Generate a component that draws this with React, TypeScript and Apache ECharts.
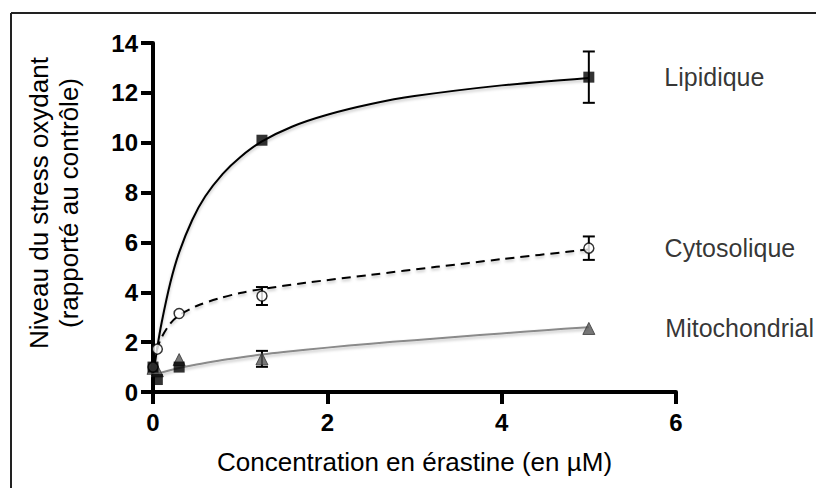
import React, { useEffect, useRef } from "react";
import * as echarts from "echarts";

// Measured points (x = concentration en érastine, µM)
const pointX = [0, 0.05, 0.3, 1.25, 5];
const lipidY = [1.0, 0.5, 1.0, 10.1, 12.63];
const lipidErr = [0, 0, 0, 0, 1.03];
const cytoY = [1.0, 1.72, 3.15, 3.85, 5.77];
const cytoErr = [0, 0, 0, 0.36, 0.47];
const mitoY = [0.95, 0.85, 1.3, 1.33, 2.55];
const mitoErr = [0, 0, 0, 0.32, 0];

// Fitted curves
const lipidCurveX = [0, 0.05, 0.1, 0.2, 0.3, 0.45, 0.6, 0.8, 1.0, 1.25, 1.6, 2, 2.5, 3, 4, 5];
const lipidCurveY = [0.6, 1.8, 2.8, 4.4, 5.6, 6.9, 7.85, 8.75, 9.42, 10.05, 10.65, 11.12, 11.55, 11.87, 12.3, 12.6];
const cytoCurveX = [0, 0.05, 0.1, 0.2, 0.3, 0.5, 0.75, 1.0, 1.25, 1.75, 2.5, 3.25, 4, 5];
const cytoCurveY = [1.1, 1.75, 2.2, 2.75, 3.08, 3.45, 3.75, 3.97, 4.13, 4.38, 4.7, 5.02, 5.33, 5.72];
const mitoCurveX = [0, 0.1, 0.25, 0.5, 0.75, 1, 1.25, 1.5, 2, 2.5, 3, 3.5, 4, 4.5, 5];
const mitoCurveY = [0.65, 0.78, 0.92, 1.1, 1.25, 1.38, 1.5, 1.6, 1.78, 1.94, 2.08, 2.22, 2.35, 2.48, 2.6];

const seriesNames = ["Lipidique", "Cytosolique", "Mitochondrial"];
const xTicks = { min: 0, max: 6, interval: 2 };
const yTicks = { min: 0, max: 14, interval: 2 };
const xTitle = "Concentration en érastine (en µM)";
const yTitle1 = "Niveau du stress oxydant";
const yTitle2 = "(rapporté au contrôle)";

const FONT = '"Liberation Sans", Arial, sans-serif';

function zip(xs: number[], ys: number[]) {
  return xs.map((x, i) => [x, ys[i]]);
}

function pointsWithLabel(ys: number[], name: string) {
  return pointX.map((x, i) => {
    if (i === pointX.length - 1) {
      return {
        value: [x, ys[i]],
        label: {
          show: true,
          formatter: name,
          position: "right",
          distance: 70,
          fontSize: 25,
          fontFamily: FONT,
          color: "#000",
        },
      };
    }
    return { value: [x, ys[i]] };
  });
}

function errData(ys: number[], errs: number[]) {
  const out: number[][] = [];
  pointX.forEach((x, i) => {
    if (errs[i] > 0) out.push([x, ys[i] - errs[i], ys[i] + errs[i]]);
  });
  return out;
}

const errorRender = (params: any, api: any) => {
  const x = api.value(0);
  const lo = api.coord([x, api.value(1)]);
  const hi = api.coord([x, api.value(2)]);
  const w = 6;
  const style = { stroke: "#000", lineWidth: 2 };
  return {
    type: "group",
    children: [
      { type: "line", shape: { x1: lo[0], y1: lo[1], x2: hi[0], y2: hi[1] }, style },
      { type: "line", shape: { x1: lo[0] - w, y1: lo[1], x2: lo[0] + w, y2: lo[1] }, style },
      { type: "line", shape: { x1: hi[0] - w, y1: hi[1], x2: hi[0] + w, y2: hi[1] }, style },
    ],
  };
};

const curveShadow = {
  shadowColor: "rgba(0,0,0,0.25)",
  shadowBlur: 3,
  shadowOffsetY: 2,
};

export default function App() {
  const ref = useRef<HTMLDivElement>(null);

  useEffect(() => {
    if (!ref.current) return;
    const chart = echarts.init(ref.current, null, { renderer: "svg" });
    const axisLineStyle = { color: "#000", width: 4 };
    chart.setOption({
      animation: false,
      backgroundColor: "#fff",
      grid: { left: 153, right: 140, top: 43, bottom: 96 },
      xAxis: {
        type: "value",
        min: xTicks.min,
        max: xTicks.max,
        interval: xTicks.interval,
        splitLine: { show: false },
        axisLine: { show: true, onZero: false, lineStyle: axisLineStyle },
        axisTick: { show: true, length: 12, lineStyle: axisLineStyle },
        axisLabel: {
          margin: 18,
          fontSize: 24,
          fontWeight: "bold",
          fontFamily: FONT,
          color: "#000",
        },
        name: xTitle,
        nameLocation: "middle",
        nameGap: 57,
        nameTextStyle: { fontSize: 26, fontFamily: FONT, color: "#000" },
      },
      yAxis: {
        type: "value",
        min: yTicks.min,
        max: yTicks.max,
        interval: yTicks.interval,
        splitLine: { show: false },
        axisLine: { show: true, onZero: false, lineStyle: axisLineStyle },
        axisTick: { show: true, length: 12, lineStyle: axisLineStyle },
        axisLabel: {
          margin: 15,
          fontSize: 24,
          fontWeight: "bold",
          fontFamily: FONT,
          color: "#000",
        },
      },
      graphic: [
        {
          type: "line",
          shape: { x1: 11, y1: 13, x2: 816, y2: 13 },
          style: { stroke: "#222", lineWidth: 2 },
        },
        {
          type: "line",
          shape: { x1: 11, y1: 13, x2: 11, y2: 488 },
          style: { stroke: "#222", lineWidth: 2 },
        },
        {
          type: "text",
          x: 39,
          y: 203,
          rotation: Math.PI / 2,
          style: {
            text: yTitle1,
            fontSize: 26,
            fontFamily: FONT,
            fill: "#000",
            align: "center",
            verticalAlign: "middle",
          },
        },
        {
          type: "text",
          x: 69,
          y: 203,
          rotation: Math.PI / 2,
          style: {
            text: yTitle2,
            fontSize: 26,
            fontFamily: FONT,
            fill: "#000",
            align: "center",
            verticalAlign: "middle",
          },
        },
      ],
      series: [
        {
          name: "Lipidique fit",
          type: "line",
          data: zip(lipidCurveX, lipidCurveY),
          smooth: 0.3,
          showSymbol: false,
          symbol: "none",
          lineStyle: { color: "#000", width: 2, ...curveShadow },
          z: 2,
        },
        {
          name: "Cytosolique fit",
          type: "line",
          data: zip(cytoCurveX, cytoCurveY),
          smooth: 0.3,
          showSymbol: false,
          symbol: "none",
          lineStyle: { color: "#000", width: 2, type: [9, 6], ...curveShadow },
          z: 2,
        },
        {
          name: "Mitochondrial fit",
          type: "line",
          data: zip(mitoCurveX, mitoCurveY),
          smooth: 0.3,
          showSymbol: false,
          symbol: "none",
          lineStyle: { color: "#8a8a8a", width: 2, ...curveShadow },
          z: 2,
        },
        {
          type: "custom",
          renderItem: errorRender,
          data: [
            ...errData(lipidY, lipidErr),
            ...errData(cytoY, cytoErr),
            ...errData(mitoY, mitoErr),
          ],
          encode: { x: 0, y: [1, 2] },
          z: 3,
        },
        {
          name: seriesNames[2],
          type: "scatter",
          data: pointsWithLabel(mitoY, seriesNames[2]),
          symbol: "triangle",
          symbolSize: 12,
          itemStyle: { color: "#555", borderColor: "#333", borderWidth: 1 },
          z: 4,
        },
        {
          name: seriesNames[1],
          type: "scatter",
          data: pointsWithLabel(cytoY, seriesNames[1]),
          symbol: "circle",
          symbolSize: 10,
          itemStyle: { color: "#fff", borderColor: "#000", borderWidth: 1.5 },
          z: 5,
        },
        {
          name: seriesNames[0],
          type: "scatter",
          data: pointsWithLabel(lipidY, seriesNames[0]),
          symbol: "rect",
          symbolSize: 11,
          itemStyle: { color: "#000" },
          z: 6,
        },
      ],
    });
    return () => chart.dispose();
  }, []);

  return (
    <div
      ref={ref}
      style={{
        position: "absolute",
        left: 0,
        top: 0,
        width: 816,
        height: 488,
        background: "#fff",
      }}
    />
  );
}
